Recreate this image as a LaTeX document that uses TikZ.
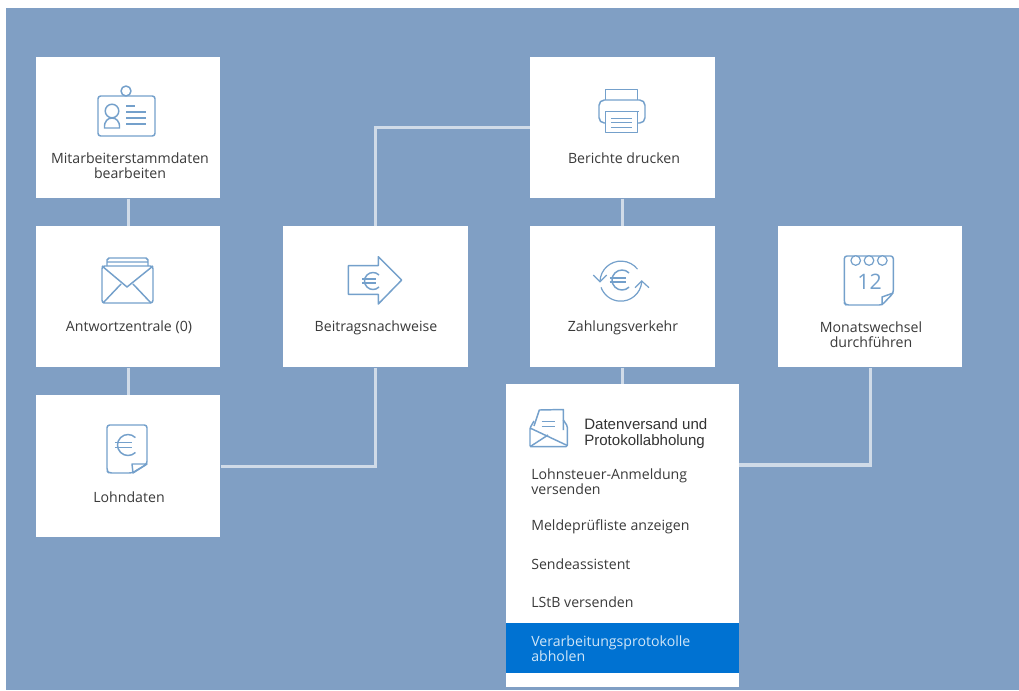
\documentclass[tikz,border=0pt]{standalone}
\usepackage{fontspec}
\setmainfont{Open Sans}
\newfontfamily\headfont{Liberation Sans}
\definecolor{bg}{HTML}{809FC4}
\definecolor{conn}{HTML}{D0DBE8}
\definecolor{ink}{HTML}{3A3A3A}
\definecolor{icon}{HTML}{74A0CB}
\definecolor{sel}{HTML}{0072D2}
\definecolor{seltext}{HTML}{CFE6F8}
\tikzset{
  tile/.style={draw=none,fill=white,inner sep=0pt,anchor=north west},
  link/.style={draw=conn,line width=2.3pt},
  caption/.style={text=ink,font=\fontsize{10.6}{11.2}\selectfont,align=center,inner sep=0pt},
  menuitem/.style={text=ink,font=\fontsize{10.6}{11.2}\selectfont,align=left,inner sep=0pt,anchor=west},
  ico/.style={draw=icon,line width=1.1pt,line join=round},
  thin ico/.style={draw=icon,line width=.9pt},
  pics/euro/.style={code={
    \draw[ico] (45:#1) arc[start angle=45,end angle=315,radius=#1];
    \draw[ico] (-#1*1.25,-#1*.22) -- (#1*.35,-#1*.22) (-#1*1.25,#1*.22) -- (#1*.35,#1*.22);
  }}
}
\begin{document}
\begin{tikzpicture}[x=.75pt,y=-.75pt]
\useasboundingbox (0,0) rectangle (1019,690);
\fill[bg] (6,8) rectangle (1019,690);
% tiles
\node[tile,minimum width=138pt,minimum height=105.75pt] (stamm) at (36,57) {};
\node[tile,minimum width=138pt,minimum height=105.75pt] (antwort) at (36,226) {};
\node[tile,minimum width=138pt,minimum height=106.5pt] (lohn) at (36,395) {};
\node[tile,minimum width=138.75pt,minimum height=105.75pt] (beitrag) at (283,226) {};
\node[tile,minimum width=138.75pt,minimum height=105.75pt] (bericht) at (530,57) {};
\node[tile,minimum width=138.75pt,minimum height=105.75pt] (zahlung) at (530,226) {};
\node[tile,minimum width=138pt,minimum height=105.75pt] (monat) at (778,226) {};
\node[tile,minimum width=174.75pt,minimum height=227.25pt] (menu) at (506,384) {};
\node[tile,fill=sel,minimum width=174.75pt,minimum height=37.5pt] (selected) at (506,623) {};
% connectors
\coordinate (menuport) at (739,465);
\draw[link] (stamm.south) -- (antwort.north);
\draw[link] (antwort.south) -- (lohn.north);
\draw[link] (lohn.east) -| (beitrag.south);
\draw[link] (beitrag.north) |- (bericht.west);
\draw[link] (bericht.south) -- (zahlung.north);
\draw[link] (zahlung.south) -- (zahlung.south |- menu.north);
\draw[link] (menuport) -| (monat.south);
% captions
\node[caption] (t1) at (130,165.5) {Mitarbeiterstammdaten\\bearbeiten};
\node[caption] (t2) at (129,327.5) {Antwortzentrale (0)};
\node[caption] (t3) at (129,497) {Lohndaten};
\node[caption] (t4) at (376,327.5) {Beitragsnachweise};
\node[caption] (t5) at (624,158) {Berichte drucken};
\node[caption] (t6) at (623,327.5) {Zahlungsverkehr};
\node[caption] (t7) at (871,334.5) {Monatswechsel\\durchführen};
\node[menuitem,font=\headfont\fontsize{11.3}{12}\selectfont,text=black!80] (t8) at (584,433.5) {Datenversand und\\Protokollabholung};
\node[menuitem] (t9) at (531,481.5) {Lohnsteuer-Anmeldung\\versenden};
\node[menuitem] (t10) at (531,527) {Meldeprüfliste anzeigen};
\node[menuitem] (t11) at (531,564.5) {Sendeassistent};
\node[menuitem] (t12) at (531,602) {LStB versenden};
\node[menuitem,text=seltext] (t13) at (531,648.5) {Verarbeitungsprotokolle\\abholen};
% badge icon
\draw[ico,rounded corners=2pt] (98,96) rectangle (155,136);
\draw[ico,fill=white] (126,91) circle (5);
\draw[ico] (112,111) circle (6.8);
\draw[ico] (104.5,128) .. controls (104,121) and (108,118) .. (112,118) .. controls (116,118) and (120,121) .. (119.5,128) -- cycle;
\draw[ico] (126,106) -- (135,106) (126,112) -- (146,112) (126,118) -- (146,118) (126,124) -- (146,124);
% envelope icon
\draw[ico,rounded corners=2pt] (102,266) rectangle (153,303);
\draw[ico] (107,266) -- (107,260) -- (109,258) -- (146,258) -- (148,260) -- (148,266) (107,262) -- (148,262);
\draw[ico] (102,266) -- (127,287) -- (153,266);
\draw[ico] (103,303) -- (121,284) (151,303) -- (133,284);
% document euro icon
\draw[ico,rounded corners=2pt] (132,473) -- (109,473) -- (107,471) -- (107,425) -- (147,425) -- (147,464) -- cycle;
\draw[ico] (132,464) -- (147,464) -- (133,473) -- cycle;
\pic at (128,445) {euro=10.5};
% arrow icon
\draw[ico] (348.3,265.7) -- (378.3,265.7) -- (378.3,256.7) -- (401.7,280) -- (378.3,304) -- (378.3,294.3) -- (348.3,294.3) -- cycle;
\pic at (373,281) {euro=8.5};
% printer icon
\draw[ico] (605.7,100) -- (605.7,89.3) -- (637.7,89.3) -- (637.7,100);
\draw[ico,rounded corners=4pt] (605.7,123) -- (599,123) -- (599,100) -- (645,100) -- (645,123) -- (637.7,123);
\draw[ico] (605,111.7) -- (638.5,111.7);
\draw[ico] (605.7,111.7) -- (605.7,132.7) -- (637.7,132.7) -- (637.7,111.7);
\draw[ico] (611,118.3) -- (631.7,118.3) (611,122.7) -- (631.7,122.7) (611,127.3) -- (631.7,127.3);
% payment icon
\draw[thin ico] (600,281) arc[start angle=183,end angle=322,radius=21];
\draw[thin ico] (641.7,282) arc[start angle=5,end angle=160,radius=21];
\draw[thin ico] (593.3,275) -- (600,281.7) -- (606.7,275);
\draw[thin ico] (635,287.7) -- (641.7,281) -- (649,287.7);
\pic at (622,280) {euro=10};
% calendar icon
\draw[ico,rounded corners=2pt] (882,305) -- (846,305) -- (844.3,303) -- (844.3,256) -- (893.3,256) -- (893.3,293) -- cycle;
\draw[ico] (882,305) -- (882,297) -- (893.3,293);
\foreach \cx in {855.7,869,882.3}
  \draw[thin ico,fill=white] (\cx,260.5) circle (4.8);
\node[inner sep=0pt,text=icon,font=\fontsize{16}{16}\selectfont] (cal) at (869.5,282) {12};
% open envelope icon
\draw[ico] (534,426) -- (539.3,410) -- (563.3,409.5) -- (563.3,430);
\draw[ico,rounded corners=1pt] (534,421) -- (530,428) -- (530,446.7) -- (567.3,446.7) -- (567.3,426) -- (563.3,420);
\draw[ico] (530,428) -- (567.3,445.5) (530,446.7) -- (548,435);
\draw[ico] (541.7,421.7) -- (555,421.7) (541.7,426.7) -- (555,426.7);
\end{tikzpicture}
\end{document}
